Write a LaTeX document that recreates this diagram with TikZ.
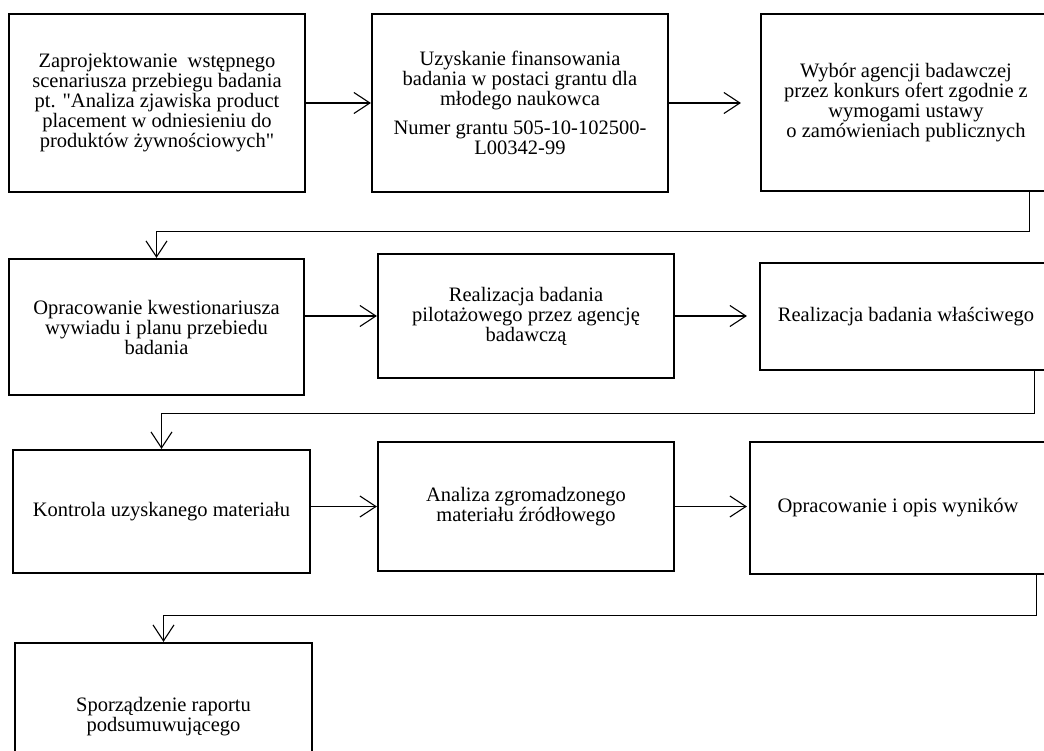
\documentclass[tikz,border=0pt]{standalone}
\usepackage{fontspec}
\setmainfont{Liberation Serif}
\usepackage{tikz}
\usetikzlibrary{arrows.meta,calc}
\newcommand{\cudz}{{\addfontfeature{Ligatures=TeXOff}"}}

\begin{document}
\begin{tikzpicture}[x=1pt,y=-1pt,
    etap/.style={draw=black, line width=2.2pt, align=center, inner sep=0pt,
                 font=\fontsize{20.5}{20}\selectfont},
    strz/.style={line width=1.1pt,
                 -{Straight Barb[length=16pt,width=21pt,line width=1.1pt]}}]

  \useasboundingbox (0,0) rectangle (1044,751);

  % ----- wiersz 1 -----
  \node[etap, minimum width=296pt, minimum height=178pt] (proj) at (157,103)
    {Zaprojektowanie~~wstępnego\\scenariusza przebiegu badania\\
     pt. \cudz Analiza zjawiska product\\placement w odniesieniu do\\
     produktów żywnościowych\cudz};
  \node[etap, minimum width=296pt, minimum height=178pt] (grant) at (520,103)
    {Uzyskanie finansowania\\badania w postaci grantu dla\\młodego naukowca\\[9pt]
     Numer grantu 505-10-102500-\\L00342-99};
  \node[etap, minimum width=290pt, minimum height=177pt] (agencja) at (906,102.5)
    {Wybór agencji badawczej\\przez konkurs ofert zgodnie z\\wymogami ustawy\\
     o zamówieniach publicznych};

  % ----- wiersz 2 -----
  \node[etap, minimum width=295pt, minimum height=136pt] (kwest) at (156.5,327)
    {Opracowanie kwestionariusza\\wywiadu i planu przebiedu\\badania};
  \node[etap, minimum width=296pt, minimum height=124pt] (pilot) at (526,316)
    {Realizacja badania\\pilotażowego przez agencję\\badawczą};
  \node[etap, minimum width=292pt, minimum height=107pt] (wlasc) at (906,316.5)
    {Realizacja badania właściwego};

  % ----- wiersz 3 -----
  \node[etap, minimum width=297pt, minimum height=123pt] (kontr) at (161.5,511.5)
    {Kontrola uzyskanego materiału};
  \node[etap, minimum width=296pt, minimum height=129pt] (anal) at (526,506.5)
    {Analiza zgromadzonego\\materiału źródłowego};
  \node[etap, minimum width=296pt, minimum height=132pt] (wyniki) at (898,508)
    {Opracowanie i opis wyników};

  % ----- wiersz 4 -----
  \node[etap, minimum width=297pt, minimum height=148pt] (raport) at (163.5,717)
    {Sporządzenie raportu\\podsumuwującego};

  % ----- strzałki -----
  \draw[strz] (proj.east) -- (grant.west);
  \draw[strz, shorten >=19pt] (grant.east) -- (grant.east -| agencja.west);
  \draw[strz] ([xshift=-23pt]agencja.south east) -- ++(0,39) -| (kwest.north);

  \draw[strz] (pilot.west -| kwest.east) -- (pilot.west);
  \draw[strz, shorten >=12pt] (pilot.east) -- (pilot.east -| wlasc.west);
  \draw[strz] ([xshift=-19pt]wlasc.south east) -- ++(0,42) -| (kontr.north);

  \draw[strz] (anal.west -| kontr.east) -- (anal.west);
  \draw[strz, shorten >=2pt] (anal.east) -- (anal.east -| wyniki.west);
  \draw[strz] ([xshift=-11pt]wyniki.south east) -- ++(0,40) -| (raport.north);

\end{tikzpicture}
\end{document}
